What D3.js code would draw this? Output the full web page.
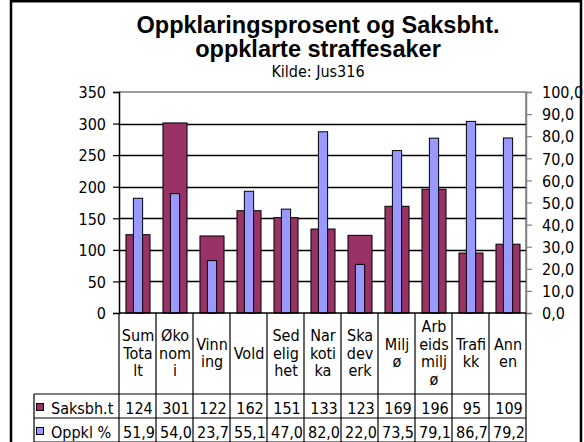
<!DOCTYPE html>
<html>
<head>
<meta charset="utf-8">
<script src="https://cdn.jsdelivr.net/npm/d3@7"></script>
<style>
  html, body { margin: 0; padding: 0; background: #fff; }
  svg { display: block; }
  .t { font-family: 'DejaVu Sans Condensed', 'DejaVu Sans', sans-serif; font-stretch: condensed; font-size: 16px; fill: #000; }
  .title { font-family: 'Liberation Sans', Arial, sans-serif; font-weight: bold; font-size: 23.5px; fill: #000; }
</style>
</head>
<body>
<svg id="chart" width="584" height="442"></svg>
<script>
// Category labels, "|" marks where the label wraps inside its table column
const categories = ["Sum|Tota|lt", "Øko|nom|i", "Vinn|ing", "Vold", "Sed|elig|het", "Nar|koti|ka",
                    "Ska|dev|erk", "Milj|ø", "Arb|eids|milj|ø", "Trafi|kk", "Ann|en"];
const saksbh = [124, 301, 122, 162, 151, 133, 123, 169, 196, 95, 109];
const oppkl = [51.9, 54.0, 23.7, 55.1, 47.0, 82.0, 22.0, 73.5, 79.1, 86.7, 79.2];
const seriesNames = ["Saksbh.t", "Oppkl %"];
const seriesColors = ["#993366", "#9999FF"];
const leftTicks = [0, 50, 100, 150, 200, 250, 300, 350];
const rightTicks = [0, 10, 20, 30, 40, 50, 60, 70, 80, 90, 100];
const titleLines = ["Oppklaringsprosent og Saksbht.", "oppklarte straffesaker"];
const subtitle = "Kilde: Jus316";

const svg = d3.select("#chart");
const plot = { left: 119, right: 526, top: 92, bottom: 313 };
const tableLeft = 34, headerBottom = 394, rowH = 24;

const x = d3.scaleBand().domain(d3.range(categories.length)).range([plot.left, plot.right]).padding(0);
const yL = d3.scaleLinear().domain([0, 350]).range([plot.bottom, plot.top]);
const yR = d3.scaleLinear().domain([0, 100]).range([plot.bottom, plot.top]);
const fmtComma = d => d.toFixed(1).replace(".", ",");

// Outer frame
svg.append("rect").attr("x", 11).attr("y", 1.25).attr("width", 570).attr("height", 520)
  .attr("fill", "none").attr("stroke", "#000").attr("stroke-width", 2.5);

// Titles
svg.append("text").attr("class", "title").attr("x", 318).attr("y", 33).attr("text-anchor", "middle").text(titleLines[0]);
svg.append("text").attr("class", "title").attr("x", 318).attr("y", 57).attr("text-anchor", "middle").text(titleLines[1]);
svg.append("text").attr("class", "t").attr("x", 318).attr("y", 77).attr("text-anchor", "middle").text(subtitle);

// Plot area border (top and right in grey)
svg.append("path")
  .attr("d", `M${plot.left},${plot.top}H${plot.right}V${plot.bottom}`)
  .attr("fill", "none").attr("stroke", "#808080").attr("stroke-width", 1.5);

// Horizontal gridlines from the left axis
svg.append("g").selectAll("line").data(leftTicks.filter(d => d > 0 && d < 350)).join("line")
  .attr("x1", plot.left).attr("x2", plot.right)
  .attr("y1", d => Math.round(yL(d)) + 0.5).attr("y2", d => Math.round(yL(d)) + 0.5)
  .attr("stroke", "#000").attr("stroke-width", 1.4);

// Bars: Saksbh.t (left axis), Oppkl % (right axis) drawn narrower on top
const bw0 = x.bandwidth() * 0.65, bw1 = x.bandwidth() * 0.25;
svg.append("g").selectAll("rect").data(saksbh).join("rect")
  .attr("x", (d, i) => x(i) + (x.bandwidth() - bw0) / 2 + 0.5)
  .attr("y", d => yL(d))
  .attr("width", bw0).attr("height", d => yL(0) - yL(d))
  .attr("fill", seriesColors[0]).attr("stroke", "#000").attr("stroke-width", 1);
svg.append("g").selectAll("rect").data(oppkl).join("rect")
  .attr("x", (d, i) => x(i) + (x.bandwidth() - bw1) / 2 + 0.5)
  .attr("y", d => yR(d))
  .attr("width", bw1).attr("height", d => yR(0) - yR(d))
  .attr("fill", seriesColors[1]).attr("stroke", "#000").attr("stroke-width", 1);

// Left axis
const axL = svg.append("g").attr("transform", `translate(${plot.left},0)`)
  .call(d3.axisLeft(yL).tickValues(leftTicks).tickSize(6).tickPadding(7).tickFormat(d3.format("d")));
axL.select(".domain").attr("stroke", "#000").attr("stroke-width", 1.5);
axL.selectAll(".tick line").attr("stroke", "#000").attr("stroke-width", 1.2);
axL.selectAll(".tick text").attr("class", "t").attr("font-size", null).attr("font-family", null).attr("dy", "0.36em");

// Right axis
const axR = svg.append("g").attr("transform", `translate(${plot.right},0)`)
  .call(d3.axisRight(yR).tickValues(rightTicks).tickSize(6).tickPadding(10).tickFormat(fmtComma));
axR.select(".domain").attr("stroke", "#808080").attr("stroke-width", 1.5);
axR.selectAll(".tick line").attr("stroke", "#808080").attr("stroke-width", 1.2);
axR.selectAll(".tick text").attr("class", "t").attr("font-size", null).attr("font-family", null).attr("dy", "0.36em");

// Category axis line
svg.append("line").attr("x1", plot.left).attr("x2", plot.right)
  .attr("y1", plot.bottom).attr("y2", plot.bottom).attr("stroke", "#000").attr("stroke-width", 1.5);

// Data table
const tableBottom = headerBottom + rowH * 2;
const grid = svg.append("g").attr("stroke", "#000").attr("stroke-width", 1.2);
d3.range(categories.length + 1).forEach(i => {
  const xx = i < categories.length ? x(i) : plot.right;
  grid.append("line").attr("x1", xx).attr("x2", xx).attr("y1", plot.bottom).attr("y2", tableBottom + 2);
});
grid.append("line").attr("x1", tableLeft).attr("x2", tableLeft).attr("y1", headerBottom).attr("y2", tableBottom + 2);
[headerBottom, headerBottom + rowH, tableBottom].forEach(yy => {
  grid.append("line").attr("x1", tableLeft).attr("x2", plot.right).attr("y1", yy).attr("y2", yy);
});

// Category header cells
const headCenter = (plot.bottom + headerBottom) / 2, lineH = 17.7;
const head = svg.append("g").selectAll("text").data(categories).join("text")
  .attr("class", "t").attr("text-anchor", "middle")
  .attr("transform", (d, i) => `translate(${x(i) + x.bandwidth() / 2 + 0.5},0)`);
head.each(function (d) {
  const lines = d.split("|");
  const y0 = headCenter + 5 - (lines.length - 1) * lineH / 2;
  d3.select(this).selectAll("tspan").data(lines).join("tspan")
    .attr("x", 0).attr("y", (l, j) => y0 + j * lineH).text(l => l);
});

// Series rows: legend key, name and values
const rows = [saksbh.map(d3.format("d")), oppkl.map(fmtComma)];
rows.forEach((vals, r) => {
  const top = headerBottom + r * rowH;
  svg.append("rect").attr("x", 36.5).attr("y", top + 9.5).attr("width", 7).attr("height", 7)
    .attr("fill", seriesColors[r]).attr("stroke", "#000").attr("stroke-width", 1);
  svg.append("text").attr("class", "t").attr("x", 51).attr("y", top + 19.5).text(seriesNames[r]);
  svg.append("g").selectAll("text").data(vals).join("text")
    .attr("class", "t").attr("text-anchor", "middle")
    .attr("x", (d, i) => x(i) + x.bandwidth() / 2 + 1.5).attr("y", top + 19.5).text(d => d);
});
</script>
</body>
</html>
